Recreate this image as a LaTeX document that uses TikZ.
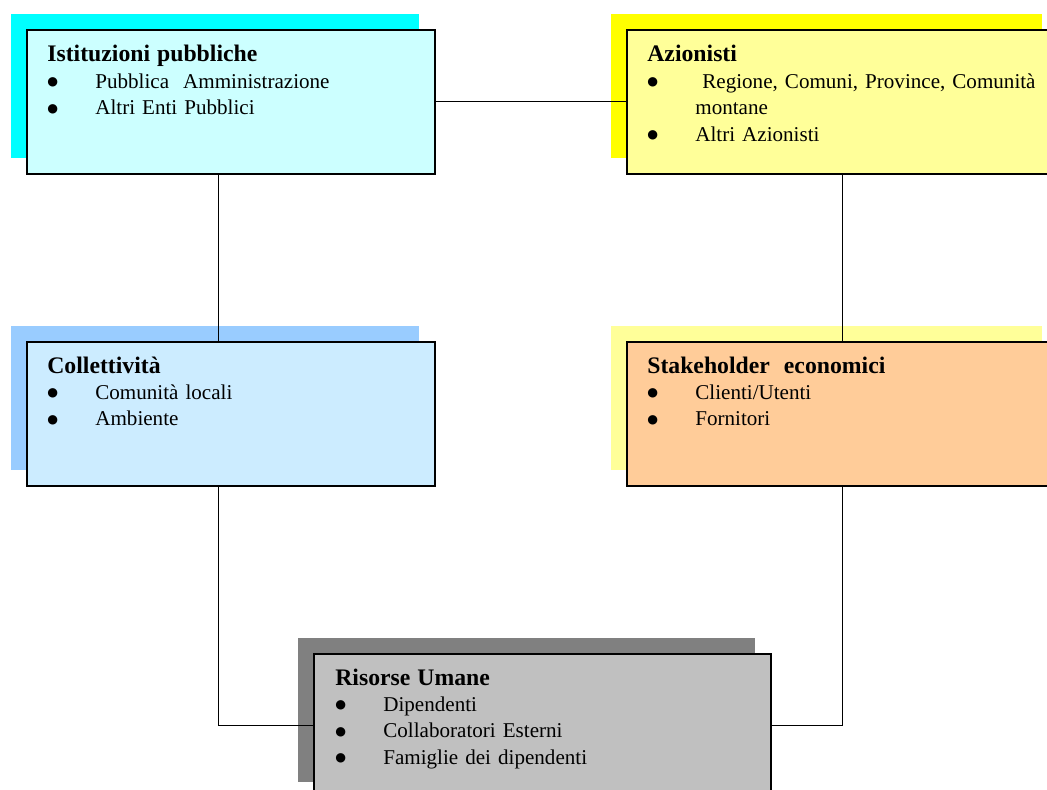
\documentclass[tikz,border=0pt]{standalone}
\usepackage{fontspec}
\setmainfont{Liberation Serif}
\newfontfamily\symf{DejaVu Sans}
\usetikzlibrary{shadows}
\definecolor{ibfill}{RGB}{204,255,255}
\definecolor{ibshade}{RGB}{0,255,255}
\definecolor{azfill}{RGB}{255,255,153}
\definecolor{azshade}{RGB}{255,255,0}
\definecolor{cofill}{RGB}{204,236,255}
\definecolor{coshade}{RGB}{153,204,255}
\definecolor{sefill}{RGB}{255,204,153}
\definecolor{seshade}{RGB}{255,255,153}
\definecolor{rufill}{RGB}{192,192,192}
\definecolor{rushade}{RGB}{128,128,128}
\newcommand{\itm}{\makebox[0.96cm][l]{\raisebox{1.5pt}{\symf\fontsize{7}{8}\selectfont ●}}}
\newcommand{\ttl}{\fontsize{13.5}{15}\selectfont\bfseries}

\begin{document}
\begin{tikzpicture}[x=0.02cm,y=-0.02cm,
  box/.style={draw,line width=1pt,anchor=north west,inner sep=0,minimum height=2.88cm},
  shd/.style={drop shadow={shadow xshift=-0.32cm,shadow yshift=0.32cm,opacity=1,fill=#1}},
  txt/.style={anchor=base west,inner sep=0,text width=9cm,align=left,font=\fontsize{12}{15}\selectfont},
  link/.style={line width=0.6pt}]
\useasboundingbox (0,0) rectangle (1047,790);
\clip (0,0) rectangle (1047,790);
% boxes
\node[box,minimum width=8.16cm,fill=ibfill,shd=ibshade] (ib) at (26,29) {};
\node[box,minimum width=8.62cm,fill=azfill,shd=azshade] (az) at (626,29) {};
\node[box,minimum width=8.16cm,fill=cofill,shd=coshade] (co) at (26,341) {};
\node[box,minimum width=8.62cm,fill=sefill,shd=seshade] (se) at (626,341) {};
\node[box,minimum width=9.14cm,fill=rufill,shd=rushade] (ru) at (313,653) {};
% texts
\node[txt] (ibtxt) at ([shift={(21,33)}]ib.north west) {{\ttl Istituzioni pubbliche}\\
  \itm Pubblica~~Amministrazione\\
  \itm Altri Enti Pubblici};
\node[txt] (aztxt) at ([shift={(21,33)}]az.north west) {{\ttl Azionisti}\\
  \itm\ Regione, Comuni, Province, Comunità\\
  \hspace*{0.96cm}montane\\
  \itm Altri Azionisti};
\node[txt] (cotxt) at ([shift={(21,32)}]co.north west) {{\ttl Collettività}\\
  \itm Comunità locali\\
  \itm Ambiente};
\node[txt] (setxt) at ([shift={(21,32)}]se.north west) {{\ttl Stakeholder~~economici}\\
  \itm Clienti/Utenti\\
  \itm Fornitori};
\node[txt] (rutxt) at ([shift={(22,32)}]ru.north west) {{\ttl Risorse Umane}\\
  \itm Dipendenti\\
  \itm Collaboratori Esterni\\
  \itm Famiglie dei dipendenti};
% connectors
\draw[link] (ib.east) -- (az.west);
\draw[link] ([xshift=-0.24cm]ib.south) -- ([xshift=-0.24cm]co.north);
\draw[link] (az.south) -- (se.north);
\draw[link] ([xshift=-0.24cm]co.south) |- (ru.west);
\draw[link] (se.south) |- (ru.east);
\end{tikzpicture}
\end{document}
